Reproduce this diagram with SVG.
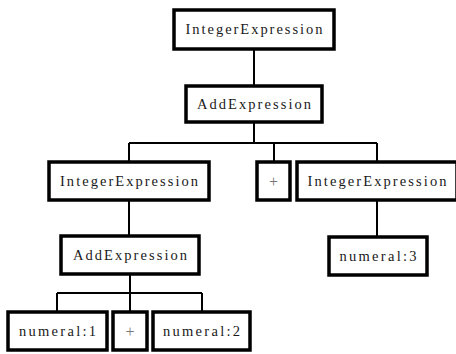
<svg xmlns="http://www.w3.org/2000/svg" width="456" height="354" viewBox="0 0 456 354">
  <style>
    .box { fill: #ffffff; stroke: #000000; stroke-width: 3.5; }
    .edge { fill: none; stroke: #000000; stroke-width: 2; }
    .lbl { font-family: "Liberation Serif", "DejaVu Serif", serif; font-size: 14.5px; fill: #1a1a1a; text-anchor: middle; }
    .op { font-family: "Liberation Serif", "DejaVu Serif", serif; font-size: 16px; fill: #777777; text-anchor: middle; }
  </style>
  <rect width="456" height="354" fill="#ffffff"/>

  <!-- tree edges -->
  <g id="connectors">
    <path class="edge" d="M254,50 V86"/>
    <path class="edge" d="M254,122 V143 M129,143 H377 M129,143 V162 M274,143 V162 M377,143 V162"/>
    <path class="edge" d="M129,200 V236"/>
    <path class="edge" d="M377,200 V237"/>
    <path class="edge" d="M130,274 V293 M57,293 H202 M57,293 V312 M130,293 V312 M202,293 V312"/>
  </g>

  <g id="root">
    <rect class="box" x="174" y="10" width="160" height="39"/>
    <text class="lbl" x="254" y="34" textLength="137" lengthAdjust="spacing">IntegerExpression</text>
  </g>
  <g id="add-top">
    <rect class="box" x="186" y="86" width="136" height="36"/>
    <text class="lbl" x="254" y="108.5" textLength="114" lengthAdjust="spacing">AddExpression</text>
  </g>
  <g id="int-left">
    <rect class="box" x="49" y="162" width="160" height="38"/>
    <text class="lbl" x="129" y="185.5" textLength="138" lengthAdjust="spacing">IntegerExpression</text>
  </g>
  <g id="plus-top">
    <rect class="box" x="257" y="162" width="33" height="38"/>
    <text class="op" x="273.5" y="186.5">+</text>
  </g>
  <g id="int-right">
    <rect class="box" x="297" y="162" width="160" height="38"/>
    <text class="lbl" x="377" y="185.5" textLength="139" lengthAdjust="spacing">IntegerExpression</text>
  </g>
  <g id="add-left">
    <rect class="box" x="61" y="236" width="138" height="38"/>
    <text class="lbl" x="130" y="259.5" textLength="114" lengthAdjust="spacing">AddExpression</text>
  </g>
  <g id="num3">
    <rect class="box" x="329" y="237" width="98" height="38"/>
    <text class="lbl" x="378" y="260.5" textLength="77" lengthAdjust="spacing">numeral:3</text>
  </g>
  <g id="num1">
    <rect class="box" x="8" y="312" width="99" height="38"/>
    <text class="lbl" x="57.5" y="335.5" textLength="77" lengthAdjust="spacing">numeral:1</text>
  </g>
  <g id="plus-bottom">
    <rect class="box" x="113" y="312" width="34" height="38"/>
    <text class="op" x="130" y="336.5">+</text>
  </g>
  <g id="num2">
    <rect class="box" x="153" y="312" width="97" height="38"/>
    <text class="lbl" x="201.5" y="335.5" textLength="77" lengthAdjust="spacing">numeral:2</text>
  </g>
</svg>
